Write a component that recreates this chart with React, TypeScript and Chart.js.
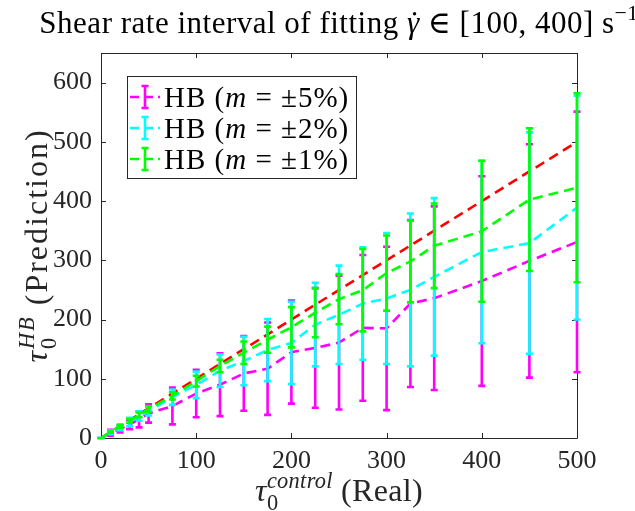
import React, { useEffect, useRef } from "react";
import { Chart, registerables } from "chart.js";

Chart.register(...registerables);

// ---- data ----
const tauReal = [0, 10, 20, 30, 40, 50, 75, 100, 125, 150, 175, 200, 225, 250, 275, 300, 325, 350, 400, 450, 500];

const hb5Mean = [0, 9, 15, 23, 31.5, 41.5, 54, 75, 90, 109, 117, 145, 152, 161, 186, 185, 227, 236, 265, 299, 331];
const hb5Err = [0, 5, 5.5, 8, 13.5, 15.5, 31, 40, 53, 63, 78, 87, 101, 113, 123, 138, 141, 155, 177, 197, 220];

const hb2Mean = [0, 9.5, 18, 27, 37, 45.5, 69, 89.5, 113.5, 130, 148.5, 160.5, 191.5, 208, 227, 235.5, 250, 272, 314, 329, 389];
const hb2Err = [0, 3, 5, 7, 8, 7.5, 13, 22.5, 27.5, 41, 52.5, 69.5, 70.5, 83, 95, 110.5, 129, 133, 154, 187, 189];

const hb1Mean = [0, 10, 19.5, 29, 39, 49, 71, 96, 121.5, 144, 166, 187, 211.5, 234.5, 249.5, 278.5, 298, 324.5, 349, 402.5, 422.5];
const hb1Err = [0, 1, 2, 3, 4, 5, 6, 9, 10.5, 19, 22, 34, 41.5, 42.5, 69.5, 63.5, 69, 71.5, 119, 120.5, 159.5];

const refX = [0, 500];
const refY = [0, 500];

const seriesMargins = ["\u00b15%", "\u00b12%", "\u00b11%"];
const seriesColors = ["#ff00ff", "#00ffff", "#00ff00"];

const xTickValues = [0, 100, 200, 300, 400, 500];
const yTickValues = [0, 100, 200, 300, 400, 500, 600];

// ---- helpers ----
const SERIF = "'Liberation Serif', 'DejaVu Serif', serif";
const AXIS_COLOR = "#262626";

type Run = { t: string; it?: boolean; s?: number; dy?: number; noAdv?: boolean; dot?: boolean };

function fontFor(r: Run, base: number) {
  const size = base * (r.s ?? 1);
  return `${r.it ? "italic " : ""}${size}px ${SERIF}`;
}

function runsWidth(ctx: CanvasRenderingContext2D, runs: Run[], base: number) {
  let w = 0;
  let pendingMax = 0;
  for (const r of runs) {
    ctx.font = fontFor(r, base);
    const mw = ctx.measureText(r.t).width;
    if (r.noAdv) {
      pendingMax = Math.max(pendingMax, mw);
    } else {
      w += Math.max(mw, pendingMax);
      pendingMax = 0;
    }
  }
  return w + pendingMax;
}

function drawRuns(ctx: CanvasRenderingContext2D, runs: Run[], x: number, y: number, base: number) {
  let cx = x;
  let pendingMax = 0;
  ctx.textBaseline = "alphabetic";
  ctx.textAlign = "left";
  for (const r of runs) {
    ctx.font = fontFor(r, base);
    const mw = ctx.measureText(r.t).width;
    const by = y + (r.dy ?? 0) * base;
    ctx.fillText(r.t, cx, by);
    if (r.dot) {
      // dot accent above the glyph (time derivative)
      const size = base * (r.s ?? 1);
      ctx.beginPath();
      ctx.arc(cx + mw * 0.6, by - size * 0.62, size * 0.055, 0, Math.PI * 2);
      ctx.fill();
    }
    if (r.noAdv) {
      pendingMax = Math.max(pendingMax, mw);
    } else {
      cx += Math.max(mw, pendingMax);
      pendingMax = 0;
    }
  }
}

function setSpacing(ctx: any, px: number) {
  if ("letterSpacing" in ctx) ctx.letterSpacing = `${px}px`;
}

// error bars drawn right after each dataset so stacking matches
const errorBarPlugin = {
  id: "errorBars",
  afterDatasetDraw(chart: any, args: any) {
    const ds = chart.data.datasets[args.index];
    if (!ds.errors) return;
    const { ctx } = chart;
    const xs = chart.scales.x;
    const ys = chart.scales.y;
    const cap = 3.5;
    ctx.save();
    ctx.strokeStyle = ds.borderColor;
    ctx.lineWidth = 2.6;
    ctx.setLineDash([]);
    ctx.lineCap = "butt";
    ds.data.forEach((p: any, i: number) => {
      const e = ds.errors[i];
      const px = xs.getPixelForValue(p.x);
      const top = ys.getPixelForValue(p.y + e);
      const bot = ys.getPixelForValue(p.y - e);
      ctx.beginPath();
      ctx.moveTo(px, top);
      ctx.lineTo(px, bot);
      ctx.moveTo(px - cap, top);
      ctx.lineTo(px + cap, top);
      ctx.moveTo(px - cap, bot);
      ctx.lineTo(px + cap, bot);
      ctx.stroke();
    });
    ctx.restore();
  },
};

// MATLAB-like box with inward ticks on all four sides
const boxPlugin = {
  id: "matlabBox",
  beforeDatasetsDraw(chart: any) {
    const { ctx, chartArea: a } = chart;
    const xs = chart.scales.x;
    const ys = chart.scales.y;
    const tl = 5;
    ctx.save();
    ctx.strokeStyle = AXIS_COLOR;
    ctx.lineWidth = 1;
    ctx.beginPath();
    ctx.rect(Math.round(a.left) + 0.5, Math.round(a.top) + 0.5, Math.round(a.right - a.left), Math.round(a.bottom - a.top));
    for (const v of xTickValues) {
      const px = Math.round(xs.getPixelForValue(v)) + 0.5;
      ctx.moveTo(px, a.bottom);
      ctx.lineTo(px, a.bottom - tl);
      ctx.moveTo(px, a.top);
      ctx.lineTo(px, a.top + tl);
    }
    for (const v of yTickValues) {
      const py = Math.round(ys.getPixelForValue(v)) + 0.5;
      ctx.moveTo(a.left, py);
      ctx.lineTo(a.left + tl, py);
      ctx.moveTo(a.right, py);
      ctx.lineTo(a.right - tl, py);
    }
    ctx.stroke();
    ctx.restore();
  },
};

// title, axis labels (with sub/superscripts) and legend box
const textPlugin = {
  id: "mathText",
  afterDraw(chart: any) {
    const { ctx, chartArea: a } = chart;
    const cxArea = (a.left + a.right) / 2;
    const cyArea = (a.top + a.bottom) / 2;
    ctx.save();

    // title
    ctx.fillStyle = "#000";
    setSpacing(ctx, 0.5);
    const titleSize = 31;
    const titleRuns: Run[] = [
      { t: "Shear rate interval of fitting " },
      { t: "\u03b3", it: true, dot: true },
      { t: " \u2208 [100, 400] s" },
      { t: "\u22121", s: 0.7, dy: -0.42 },
    ];
    const tw = runsWidth(ctx, titleRuns, titleSize);
    drawRuns(ctx, titleRuns, cxArea - tw / 2, 33, titleSize);

    // x label
    ctx.fillStyle = AXIS_COLOR;
    setSpacing(ctx, 0.3);
    const labSize = 32;
    const xRuns: Run[] = [
      { t: "\u03c4", it: true },
      { t: "0", s: 0.7, dy: 0.28, noAdv: true },
      { t: "control", it: true, s: 0.7, dy: -0.42 },
      { t: " (Real)" },
    ];
    const xw = runsWidth(ctx, xRuns, labSize);
    drawRuns(ctx, xRuns, cxArea - xw / 2, 501, labSize);

    // y label (rotated)
    setSpacing(ctx, 2);
    const yRuns: Run[] = [
      { t: "\u03c4", it: true },
      { t: "0", s: 0.7, dy: 0.28, noAdv: true },
      { t: "HB", it: true, s: 0.7, dy: -0.42 },
      { t: " (Prediction)" },
    ];
    const yw = runsWidth(ctx, yRuns, labSize);
    ctx.save();
    ctx.translate(47, cyArea);
    ctx.rotate(-Math.PI / 2);
    drawRuns(ctx, yRuns, -yw / 2, 0, labSize);
    ctx.restore();

    // legend
    setSpacing(ctx, 1);
    const lx = 127, ly = 76, lw = 229, lh = 102;
    ctx.fillStyle = "#fff";
    ctx.fillRect(lx, ly, lw, lh);
    ctx.strokeStyle = AXIS_COLOR;
    ctx.lineWidth = 1;
    ctx.strokeRect(lx + 0.5, ly + 0.5, lw, lh);
    const rowY = [97, 128, 159];
    const legSize = 29;
    seriesMargins.forEach((m, i) => {
      const y = rowY[i];
      const col = seriesColors[i];
      ctx.strokeStyle = col;
      ctx.lineWidth = 2.6;
      ctx.setLineDash([9, 5]);
      ctx.beginPath();
      ctx.moveTo(130, y);
      ctx.lineTo(160, y);
      ctx.stroke();
      ctx.setLineDash([]);
      ctx.beginPath();
      ctx.moveTo(145, y - 11);
      ctx.lineTo(145, y + 11);
      ctx.moveTo(141.5, y - 11);
      ctx.lineTo(148.5, y - 11);
      ctx.moveTo(141.5, y + 11);
      ctx.lineTo(148.5, y + 11);
      ctx.stroke();
      ctx.fillStyle = "#000";
      drawRuns(ctx, [{ t: "HB (" }, { t: "m", it: true }, { t: ` = ${m})` }], 164, y + 10, legSize);
    });

    ctx.restore();
  },
};

function pts(xs: number[], ys: number[]) {
  return xs.map((x, i) => ({ x, y: ys[i] }));
}

export default function App() {
  const canvasRef = useRef<HTMLCanvasElement | null>(null);

  useEffect(() => {
    if (!canvasRef.current) return;
    const dash = [10, 6];
    const lineCommon = {
      type: "line" as const,
      showLine: true,
      pointRadius: 0,
      pointHoverRadius: 0,
      borderWidth: 2.6,
      borderDash: dash,
      fill: false,
      tension: 0,
    };
    const chart = new Chart(canvasRef.current, {
      type: "line",
      data: {
        datasets: [
          { ...lineCommon, label: "y = x", data: pts(refX, refY), borderColor: "#ff0000", backgroundColor: "#ff0000", order: 4 },
          { ...lineCommon, label: `HB (m = ${seriesMargins[0]})`, data: pts(tauReal, hb5Mean), errors: hb5Err, borderColor: seriesColors[0], backgroundColor: seriesColors[0], order: 3 } as any,
          { ...lineCommon, label: `HB (m = ${seriesMargins[1]})`, data: pts(tauReal, hb2Mean), errors: hb2Err, borderColor: seriesColors[1], backgroundColor: seriesColors[1], order: 2 } as any,
          { ...lineCommon, label: `HB (m = ${seriesMargins[2]})`, data: pts(tauReal, hb1Mean), errors: hb1Err, borderColor: seriesColors[2], backgroundColor: seriesColors[2], order: 1 } as any,
        ],
      },
      options: {
        animation: false,
        responsive: true,
        maintainAspectRatio: false,
        layout: { padding: { top: 53, right: 58, left: 0, bottom: 0 } },
        plugins: {
          legend: { display: false },
          tooltip: { enabled: false },
          title: { display: false },
        },
        scales: {
          x: {
            type: "linear",
            min: 0,
            max: 500,
            grid: { display: false, drawTicks: false },
            border: { display: false },
            ticks: {
              stepSize: 100,
              padding: 8,
              maxRotation: 0,
              autoSkip: false,
              color: AXIS_COLOR,
              font: { family: SERIF, size: 26 },
            },
            afterFit: (s: any) => {
              s.height = 73;
            },
          },
          y: {
            type: "linear",
            min: 0,
            max: 650,
            grid: { display: false, drawTicks: false },
            border: { display: false },
            ticks: {
              stepSize: 100,
              includeBounds: false,
              padding: 9,
              color: AXIS_COLOR,
              font: { family: SERIF, size: 26 },
            },
            afterFit: (s: any) => {
              s.width = 101;
            },
          },
        },
      } as any,
      plugins: [boxPlugin, errorBarPlugin, textPlugin],
    });
    return () => chart.destroy();
  }, []);

  return (
    <div style={{ position: "fixed", left: 0, top: 0, width: 635, height: 511, background: "#fff" }}>
      <canvas ref={canvasRef} />
    </div>
  );
}
